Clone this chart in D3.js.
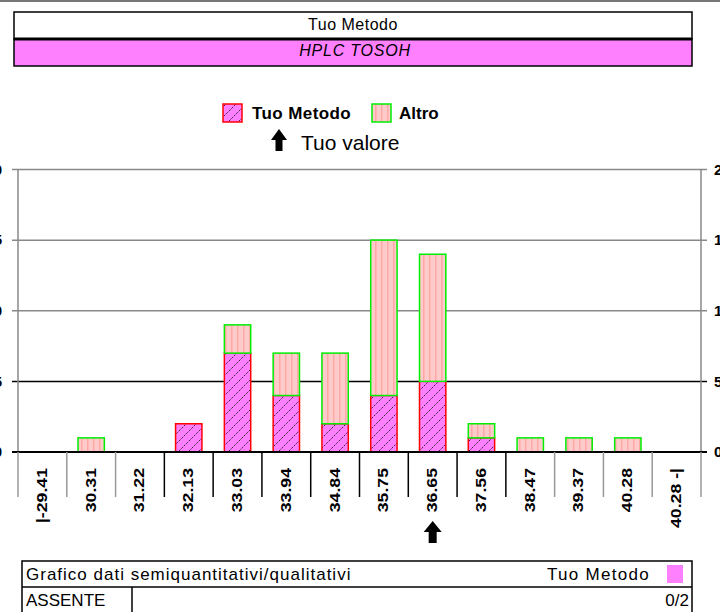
<!DOCTYPE html>
<html lang="it">
<head>
<meta charset="utf-8">
<title>Tuo Metodo - HPLC TOSOH</title>
<script src="https://cdnjs.cloudflare.com/ajax/libs/d3/7.8.5/d3.min.js"></script>
<style>
  body { margin: 0; background: #fff; }
  svg { display: block; font-family: "Liberation Sans", Arial, sans-serif; }
</style>
</head>
<body>
<div id="chart"></div>
<script>
// classes of the histogram (x axis)
var bins = ["|-29.41", "30.31", "31.22", "32.13", "33.03", "33.94", "34.84",
            "35.75", "36.65", "37.56", "38.47", "39.37", "40.28", "40.28 -|"];
// counts per class
var tuoMetodo = [0, 0, 0, 2, 7, 4, 2, 4, 5, 1, 0, 0, 0, 0];
var altro     = [0, 1, 0, 0, 2, 3, 5, 11, 9, 1, 1, 1, 1, 0];
var yTicks = [0, 5, 10, 15, 20];
var tuoValore = "36.65";

var width = 720, height = 612;
var plot = { left: 18, right: 701, top: 169.5, bottom: 452 };

var svg = d3.select("#chart").append("svg")
    .attr("width", width)
    .attr("height", height);

var defs = svg.append("defs");

// hatch for "Tuo Metodo"
var hatch = defs.append("pattern")
    .attr("id", "hatchTuo")
    .attr("patternUnits", "userSpaceOnUse")
    .attr("width", 10).attr("height", 10);
hatch.append("rect").attr("width", 10).attr("height", 10).attr("fill", "#ff80ff");
hatch.append("path")
    .attr("d", "M-1,11 L11,-1 M-1,1 L1,-1 M9,11 L11,9")
    .attr("stroke", "#222").attr("stroke-width", 0.9)
    .attr("stroke-dasharray", "2.2,1.2");

// vertical stripes for "Altro"
var stripes = defs.append("pattern")
    .attr("id", "stripeAltro")
    .attr("patternUnits", "userSpaceOnUse")
    .attr("width", 6).attr("height", 6);
stripes.append("rect").attr("width", 6).attr("height", 6).attr("fill", "#ffcaca");
stripes.append("rect").attr("x", 3).attr("width", 1.5).attr("height", 6).attr("fill", "#ffa8a8");

// thin line at the very top
svg.append("rect").attr("x", 0).attr("y", 0).attr("width", width).attr("height", 2).attr("fill", "#777");

// header boxes
svg.append("rect").attr("x", 14).attr("y", 12).attr("width", 678).attr("height", 27)
    .attr("fill", "#fff").attr("stroke", "#000").attr("stroke-width", 1.5);
svg.append("rect").attr("x", 14).attr("y", 39).attr("width", 678).attr("height", 27)
    .attr("fill", "#ff80ff").attr("stroke", "#000").attr("stroke-width", 1.5);
svg.append("line").attr("x1", 14).attr("x2", 692).attr("y1", 39).attr("y2", 39)
    .attr("stroke", "#000").attr("stroke-width", 3);
svg.append("text").attr("x", 353).attr("y", 30).attr("text-anchor", "middle")
    .style("font-size", "16px").style("letter-spacing", "0.5px").text("Tuo Metodo");
svg.append("text").attr("x", 355).attr("y", 56).attr("text-anchor", "middle")
    .style("font-size", "16px").style("font-style", "italic").style("letter-spacing", "0.8px")
    .text("HPLC TOSOH");

// scales
var x = d3.scaleBand().domain(bins).range([plot.left, plot.right]).paddingInner(0.46).paddingOuter(0.23);
var xCell = d3.scaleBand().domain(bins).range([plot.left, plot.right]);
var y = d3.scaleLinear().domain([0, 20]).range([plot.bottom, plot.top]);

// gridlines (5 and 0 are black, the rest gray)
svg.append("g").selectAll("line")
    .data(yTicks)
    .enter().append("line")
    .attr("x1", plot.left - 6).attr("x2", plot.right + 6)
    .attr("y1", function(d) { return y(d); })
    .attr("y2", function(d) { return y(d); })
    .attr("stroke", function(d) { return d <= 5 ? "#000" : "#888"; })
    .attr("stroke-width", 1.5);

// side axes
[plot.left, plot.right].forEach(function(px) {
    svg.append("line").attr("x1", px).attr("x2", px)
        .attr("y1", y(20)).attr("y2", y(0))
        .attr("stroke", "#888").attr("stroke-width", 1.5);
});

// axis labels (partly cut by the page edges, as in the original)
var rightAxis = d3.axisRight(y).tickValues(yTicks).tickSize(0).tickPadding(13);
svg.append("g").attr("transform", "translate(" + plot.right + ",0)")
    .call(rightAxis)
    .call(function(g) { g.select(".domain").remove(); })
    .selectAll("text").style("font-size", "15px").style("font-weight", "bold")
    .attr("fill", "#000").style("font-family", "Liberation Sans, Arial, sans-serif");
var leftAxis = d3.axisLeft(y).tickValues(yTicks).tickSize(0).tickPadding(16);
svg.append("g").attr("transform", "translate(" + plot.left + ",0)")
    .call(leftAxis)
    .call(function(g) { g.select(".domain").remove(); })
    .selectAll("text").style("font-size", "15px").style("font-weight", "bold")
    .attr("fill", "#000").style("font-family", "Liberation Sans, Arial, sans-serif");

// bars
var rows = bins.map(function(b, i) { return { bin: b, tuo: tuoMetodo[i], altro: altro[i] }; });

svg.append("g").selectAll("rect")
    .data(rows.filter(function(d) { return d.tuo > 0; }))
    .enter().append("rect")
    .attr("x", function(d) { return x(d.bin); })
    .attr("width", x.bandwidth())
    .attr("y", function(d) { return y(d.tuo); })
    .attr("height", function(d) { return y(0) - y(d.tuo); })
    .attr("fill", "url(#hatchTuo)")
    .attr("stroke", "#ff0000").attr("stroke-width", 1.5);

svg.append("g").selectAll("rect")
    .data(rows.filter(function(d) { return d.tuo + d.altro > 0; }))
    .enter().append("rect")
    .attr("x", function(d) { return x(d.bin); })
    .attr("width", x.bandwidth())
    .attr("y", function(d) { return y(d.tuo + d.altro); })
    .attr("height", function(d) { return y(d.tuo) - y(d.tuo + d.altro); })
    .attr("fill", "url(#stripeAltro)")
    .attr("stroke", "#00ee00").attr("stroke-width", 1.5);

// baseline
svg.append("line").attr("x1", plot.left - 6).attr("x2", plot.right + 6)
    .attr("y1", y(0)).attr("y2", y(0)).attr("stroke", "#000").attr("stroke-width", 2);

// class separators under the axis
var edges = d3.range(bins.length + 1);
svg.append("g").selectAll("line")
    .data(edges)
    .enter().append("line")
    .attr("x1", function(i) { return i < bins.length ? xCell(bins[i]) : plot.right; })
    .attr("x2", function(i) { return i < bins.length ? xCell(bins[i]) : plot.right; })
    .attr("y1", y(0)).attr("y2", y(0) + 45)
    .attr("stroke", function(i) {
        var l = tuoMetodo[i - 1] || 0, r = tuoMetodo[i] || 0;
        return (l > 0 || r > 0) ? "#000" : "#999";
    })
    .attr("stroke-width", 1.5);

// class labels, rotated
svg.append("g").selectAll("text")
    .data(bins)
    .enter().append("text")
    .attr("transform", function(d) {
        return "translate(" + (xCell(d) + xCell.bandwidth() / 2 - 1) + "," + (y(0) + 16) + ") rotate(-90) scale(1.18,1)";
    })
    .attr("dy", "0.36em")
    .attr("text-anchor", "end")
    .style("font-size", "15px").style("font-weight", "bold")
    .text(function(d) { return d; });

// arrow helper
function arrow(cx, top, h, w, s) {
    var mid = top + h * 0.5;
    return "M" + cx + "," + top +
        "L" + (cx + w / 2) + "," + mid +
        "L" + (cx + s / 2) + "," + mid +
        "L" + (cx + s / 2) + "," + (top + h) +
        "L" + (cx - s / 2) + "," + (top + h) +
        "L" + (cx - s / 2) + "," + mid +
        "L" + (cx - w / 2) + "," + mid + "Z";
}

// "Tuo valore" marker
svg.append("path")
    .attr("d", arrow(xCell(tuoValore) + xCell.bandwidth() / 2, 521, 22, 18, 8))
    .attr("fill", "#000");

// legend
var legend = svg.append("g");
legend.append("rect").attr("x", 223).attr("y", 104).attr("width", 19).attr("height", 18)
    .attr("fill", "url(#hatchTuo)").attr("stroke", "#ff0000").attr("stroke-width", 1.5);
legend.append("text").attr("x", 252).attr("y", 119)
    .style("font-size", "17px").style("font-weight", "bold").style("letter-spacing", "0.4px")
    .text("Tuo Metodo");
legend.append("rect").attr("x", 372).attr("y", 104).attr("width", 19).attr("height", 18)
    .attr("fill", "url(#stripeAltro)").attr("stroke", "#00ee00").attr("stroke-width", 1.5);
legend.append("text").attr("x", 399).attr("y", 119)
    .style("font-size", "17px").style("font-weight", "bold").text("Altro");
legend.append("path").attr("d", arrow(279, 129, 22, 16, 7)).attr("fill", "#000");
legend.append("text").attr("x", 301).attr("y", 150)
    .style("font-size", "21px").text("Tuo valore");

// bottom table
var table = svg.append("g").attr("fill", "none").attr("stroke", "#000").attr("stroke-width", 1.5);
table.append("rect").attr("x", 22).attr("y", 561).attr("width", 670).attr("height", 60);
table.append("line").attr("x1", 22).attr("x2", 692).attr("y1", 587).attr("y2", 587);
table.append("line").attr("x1", 132).attr("x2", 132).attr("y1", 587).attr("y2", 612);
svg.append("rect").attr("x", 667).attr("y", 565).attr("width", 16).attr("height", 18).attr("fill", "#ff80ff");
svg.append("text").attr("x", 26).attr("y", 580).style("font-size", "17px").style("letter-spacing", "1px")
    .text("Grafico dati semiquantitativi/qualitativi");
svg.append("text").attr("x", 650).attr("y", 580).attr("text-anchor", "end").style("font-size", "17px")
    .style("letter-spacing", "1.3px").text("Tuo Metodo");
svg.append("text").attr("x", 26).attr("y", 606).style("font-size", "17px").text("ASSENTE");
svg.append("text").attr("x", 689).attr("y", 606).attr("text-anchor", "end").style("font-size", "17px")
    .text("0/2");
</script>
</body>
</html>
